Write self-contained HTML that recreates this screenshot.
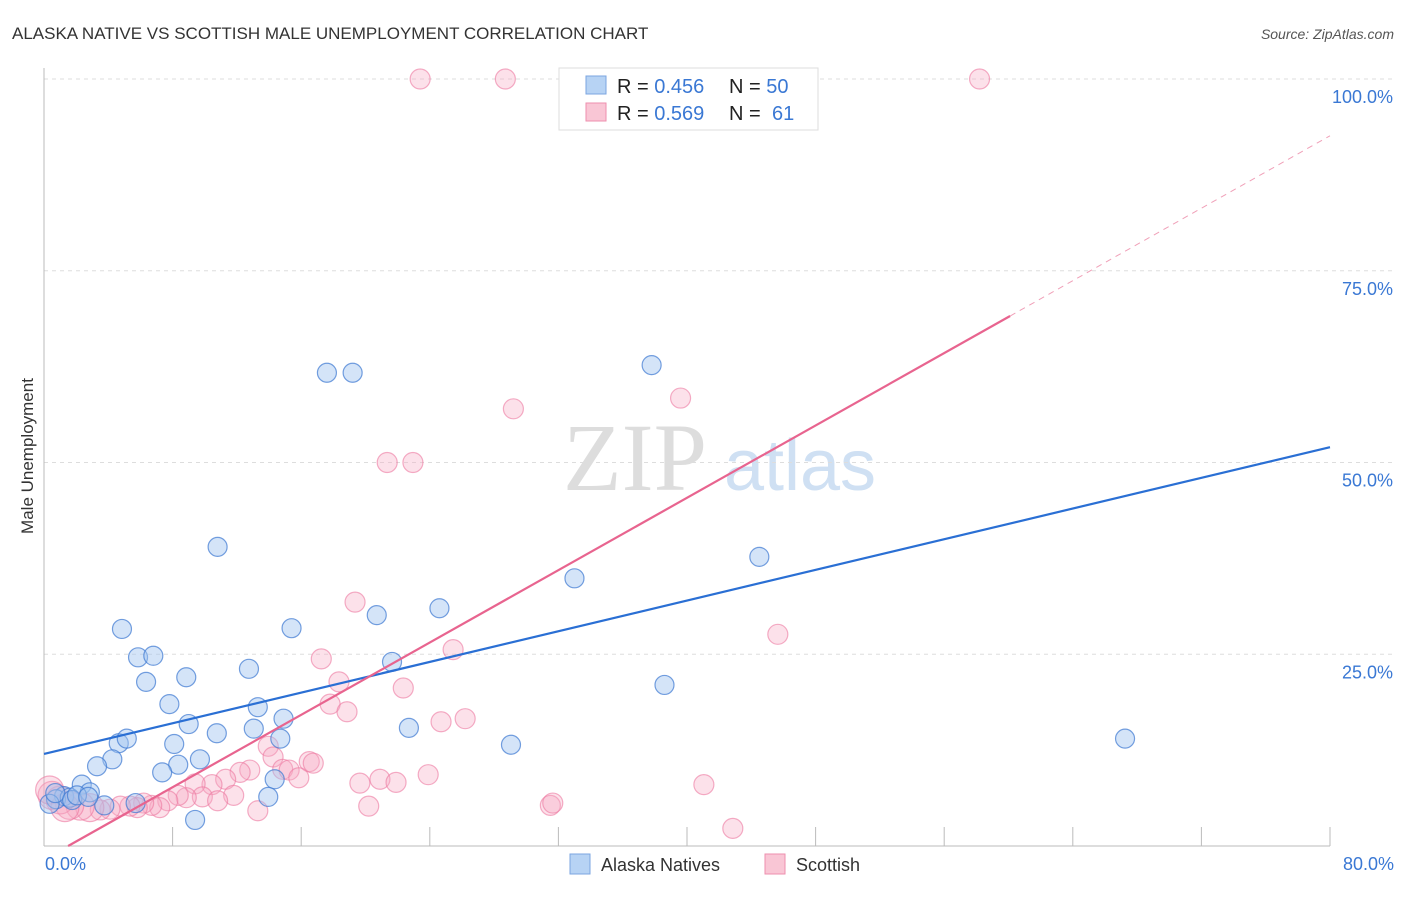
<!DOCTYPE html>
<html><head><meta charset="utf-8"><style>
body{margin:0;background:#fff;font-family:"Liberation Sans",sans-serif}
</style></head><body>
<svg width="1406" height="892" xmlns="http://www.w3.org/2000/svg">
<text x="12" y="39" font-size="17" fill="#333">ALASKA NATIVE VS SCOTTISH MALE UNEMPLOYMENT CORRELATION CHART</text>
<text x="1394" y="39" font-size="14" fill="#555" font-style="italic" text-anchor="end">Source: ZipAtlas.com</text>
<text transform="translate(33,456) rotate(-90)" font-size="17" fill="#333" text-anchor="middle">Male Unemployment</text>
<g>
<text x="635" y="490" font-size="96" fill="#ddd" font-family="Liberation Serif,serif" text-anchor="middle">ZIP</text>
<text x="800" y="490" font-size="72" fill="#cfe0f3" text-anchor="middle">atlas</text>
</g>
<g id="grid"></g>
<g id="pts"></g>
<g id="lines"></g>
<g>
<rect x="559" y="68" width="259" height="62" fill="#fff" stroke="#ddd"/>
<rect x="586" y="76" width="20" height="18" fill="#b7d3f4" stroke="#7ba6e0"/>
<rect x="586" y="103" width="20" height="18" fill="#f9c6d5" stroke="#ee8fae"/>
<text x="617" y="93" font-size="20" fill="#222">R = <tspan fill="#3a78d4">0.456</tspan></text>
<text x="729" y="93" font-size="20" fill="#222">N = <tspan fill="#3a78d4">50</tspan></text>
<text x="617" y="120" font-size="20" fill="#222">R = <tspan fill="#3a78d4">0.569</tspan></text>
<text x="729" y="120" font-size="20" fill="#222">N = <tspan x="772" fill="#3a78d4">61</tspan></text>
</g>
<g>
<rect x="570" y="854" width="20" height="20" fill="#b7d3f4" stroke="#7ba6e0"/>
<text x="601" y="871" font-size="18" fill="#333">Alaska Natives</text>
<rect x="765" y="854" width="20" height="20" fill="#f9c6d5" stroke="#ee8fae"/>
<text x="796" y="871" font-size="18" fill="#333">Scottish</text>
</g>
</svg>
<script>
const xTicks=[0,8,16,24,32,40,48,56,64,72,80];
const yTicks=[25,50,75,100];
const yTickLabels=["25.0%","50.0%","75.0%","100.0%"];
const xEndLabels=["0.0%","80.0%"];
const blueX=[17.6,19.2,37.8,10.8,44.5,33.0,24.6,20.7,4.85,15.4,5.85,6.8,12.75,21.65,8.85,6.35,38.6,7.8,13.3,9.0,14.9,10.75,13.05,14.7,4.65,5.15,22.7,8.1,29.05,67.25,4.25,9.7,3.3,8.35,7.35,14.35,13.95,2.35,2.85,1.25,0.75,0.35,1.6,3.75,5.7,9.4,0.7,1.75,2.05,2.75];
const blueY=[61.7,61.7,62.7,39.0,37.7,34.9,31.0,30.1,28.3,28.4,24.6,24.8,23.1,24.0,22.0,21.4,21.0,18.5,18.1,15.9,16.6,14.7,15.3,14.0,13.4,14.0,15.4,13.3,13.2,14.0,11.3,11.3,10.4,10.6,9.6,8.7,6.4,8.0,7.0,6.5,6.1,5.5,6.3,5.3,5.6,3.4,6.9,6.0,6.6,6.4];
const pinkX=[23.4,28.7,33.3,58.2,29.2,39.6,21.35,22.95,19.35,45.65,17.25,25.45,18.35,22.35,17.8,18.85,24.7,26.2,13.95,14.25,16.5,16.75,12.8,12.2,14.85,15.25,15.85,11.3,10.45,9.4,19.65,20.9,21.9,23.9,41.05,11.8,9.85,10.8,8.85,8.35,7.7,7.2,6.7,6.2,5.8,20.2,31.5,31.65,13.3,42.85,5.35,4.75,4.1,3.5,2.85,2.25,1.6,1.0,0.5,0.35,1.3];
const pinkY=[100,100,100,100,57.0,58.4,50.0,50.0,31.8,27.6,24.4,25.6,21.4,20.6,18.5,17.5,16.2,16.6,13.0,11.6,11.0,10.8,9.9,9.6,10.0,9.9,8.9,8.7,8.0,8.1,8.2,8.7,8.3,9.3,8.0,6.6,6.4,5.9,6.3,6.6,5.9,5.0,5.3,5.6,5.0,5.2,5.3,5.6,4.6,2.3,5.2,5.2,4.8,4.7,5.0,5.2,5.3,6.0,6.6,7.3,5.0];
const blueLine=[[0,12.0],[80,52.0]];
const pinkLine=[[1.5,0],[60.1,69.1]];
const pinkDash=[[60.1,69.1],[80,92.6]];
const NS="http://www.w3.org/2000/svg";
const X=v=>44+v*16.075, Y=v=>846-v*7.67;
function mk(t,a,p){const e=document.createElementNS(NS,t);for(const k in a)e.setAttribute(k,a[k]);p.appendChild(e);return e;}
const grid=document.getElementById('grid');
yTicks.forEach((t,i)=>{
 const l=mk('line',{x1:44,x2:1394,y1:Y(t),y2:Y(t),stroke:'#ddd','stroke-dasharray':'4,4'},grid);
 
 
 const tx=mk('text',{x:1393,y:Y(t)+24,'font-size':18,fill:'#3a78d4','text-anchor':'end'},grid);
 tx.textContent=yTickLabels[i];
 
 
});
const ax=mk('line',{x1:44,x2:44,y1:68,y2:846,stroke:'#bbb'},grid);


const bx=mk('line',{x1:44,x2:1330,y1:846,y2:846,stroke:'#bbb'},grid);


xTicks.forEach(t=>{
 const l=mk('line',{x1:X(t),x2:X(t),y1:827,y2:846,stroke:'#bbb'},grid);
 
 
});
[[0,'start',45],[80,'end',1394]].forEach((d,i)=>{
 const tx=mk('text',{x:d[2],y:870,'font-size':18,fill:'#3a78d4','text-anchor':d[1]},grid);
 tx.textContent=xEndLabels[i];
 
 
});
const pts=document.getElementById('pts');
pinkX.forEach((v,i)=>{
 const r=(v<3&&pinkY[i]<8)?14:10;
 const c=mk('circle',{cx:X(v),cy:Y(pinkY[i]),r:r,fill:'rgba(246,170,195,0.35)',stroke:'rgba(236,120,160,0.6)','stroke-width':1.2},pts);
 
 
});
blueX.forEach((v,i)=>{
 const c=mk('circle',{cx:X(v),cy:Y(blueY[i]),r:9.5,fill:'rgba(160,196,240,0.45)',stroke:'rgba(60,120,210,0.7)','stroke-width':1.2},pts);
 
 
});
const lines=document.getElementById('lines');
const b=mk('line',{x1:X(blueLine[0][0]),y1:Y(blueLine[0][1]),x2:X(blueLine[1][0]),y2:Y(blueLine[1][1]),stroke:'#2a6fd4','stroke-width':2.2},lines);


const p=mk('line',{x1:X(pinkLine[0][0]),y1:Y(pinkLine[0][1]),x2:X(pinkLine[1][0]),y2:Y(pinkLine[1][1]),stroke:'#e8648f','stroke-width':2.2},lines);


const pd=mk('line',{x1:X(pinkDash[0][0]),y1:Y(pinkDash[0][1]),x2:X(pinkDash[1][0]),y2:Y(pinkDash[1][1]),stroke:'#f0a0b8','stroke-width':1,'stroke-dasharray':'6,5'},lines);


</script>
</body></html>
